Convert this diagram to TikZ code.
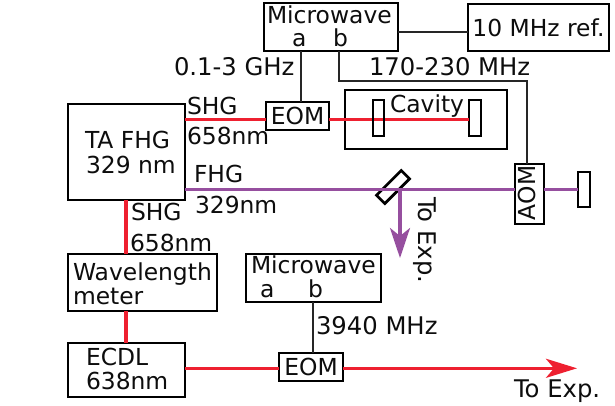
\documentclass[tikz,border=0pt]{standalone}
\usepackage{fontspec}
\setmainfont{DejaVu Sans}
\usetikzlibrary{arrows.meta}
\definecolor{beamred}{HTML}{EE2030}
\definecolor{beampurple}{HTML}{964F9F}
\tikzset{
  x=1pt,y=-1pt,
  boxs/.style={draw=black,line width=2.8pt,inner sep=0pt,outer sep=0pt,fill=white},
  hollow/.style={draw=black,line width=2.8pt,inner sep=0pt,outer sep=0pt},
  txt/.style={inner sep=0pt,outer sep=0pt,anchor=base west,text=black!95,font=\fontsize{23.4}{25}\selectfont},
  txtw/.style={txt,font=\fontsize{24.3}{25}\selectfont},
  ctr/.style={text=black!95,font=\fontsize{23.4}{25}\selectfont},
  wire/.style={draw=black!85,line width=1.5pt},
  redbeam/.style={draw=beamred,line width=3.4pt},
  purplebeam/.style={draw=beampurple,line width=3.2pt}
}
\begin{document}
\begin{tikzpicture}
\useasboundingbox (0,0) rectangle (615,405);
% boxes
\node[boxs,minimum width=134,minimum height=48] (mw) at (331,27) {};
\node[boxs,ctr,minimum width=141,minimum height=47] (ref) at (538.5,27.5) {10 MHz ref.};
\node[boxs,ctr,minimum width=63,minimum height=28] (eoma) at (297.5,116) {EOM};
\node[hollow,minimum width=162,minimum height=59] (cav) at (426,119.5) {};
\node[hollow,minimum width=12,minimum height=36] (mb) at (475,118) {};
\node[boxs,minimum width=29,minimum height=60] (aom) at (529.5,194) {};
\node[boxs,minimum width=12,minimum height=35] (endm) at (584,189.5) {};
\node[hollow,minimum width=35,minimum height=11.7,rotate=45] (split) at (393,187) {};
\node[boxs,minimum width=117,minimum height=96] (ta) at (126.5,152) {};
\node[boxs,minimum width=149,minimum height=57] (wl) at (142.5,282.5) {};
\node[boxs,minimum width=117,minimum height=54] (ecdl) at (126.5,370) {};
\node[boxs,minimum width=135,minimum height=48] (mwb) at (313.5,278) {};
\node[boxs,ctr,minimum width=64,minimum height=28] (eomb) at (311,367) {EOM};
% helper coordinates
\coordinate (porta) at (301,40);
\coordinate (portb) at (339,81);
\coordinate (aomx) at (527,81);
\coordinate (redy) at (0,119.3);
\coordinate (redv) at (126,0);
\coordinate (lowy) at (0,368.3);
\coordinate (tipa) at (577,368.3);
\coordinate (splitout) at (400,189.5);
\coordinate (tipb) at (400,258);
\coordinate (portc) at (313,0);
\coordinate (refy) at (0,32);
% beams
\draw[redbeam] (ta.east |- redy) -- (eoma.west |- redy);
\draw[redbeam] (eoma.east |- redy) -- (mb.west |- redy);
\draw[purplebeam] (ta.east |- endm.west) -- (aom.west |- endm.west);
\draw[purplebeam] (aom.east |- endm.west) -- (endm.west);
\draw[purplebeam,-{Stealth[length=30pt,width=20pt,inset=8pt]}] (splitout) -- (tipb);
\draw[redbeam] (ta.south -| redv) -- (wl.north -| redv);
\draw[redbeam] (wl.south -| redv) -- (ecdl.north -| redv);
\draw[redbeam] (ecdl.east |- lowy) -- (eomb.west |- lowy);
\draw[redbeam,-{Stealth[length=31pt,width=19pt,inset=8pt]}] (eomb.east |- lowy) -- (tipa);
% wires
\draw[wire] (mw.east |- refy) -- (ref.west |- refy);
\draw[wire] (mw.south -| porta) -- (eoma.north -| porta);
\draw[wire] (mw.south -| portb) -- (portb) -- (aomx) -- (aom.north -| aomx);
\draw[wire] (mwb.south -| portc) -- (eomb.north -| portc);
% first cavity mirror sits over the beam
\node[hollow,minimum width=11,minimum height=36] (ma) at (378.5,118) {};
% text
\node[txt] (t1) at (267,23) {Microwave};
\node[txt] (t2) at (292,46) {a};
\node[txt] (t3) at (333,46) {b};
\node[txtw] (t4) at (174,75) {0.1-3 GHz};
\node[txtw] (t5) at (369,75) {170-230 MHz};
\node[txt] (t6) at (187,114) {SHG};
\node[txt] (t7) at (187,144) {658nm};
\node[txt] (t8) at (390,112) {Cavity};
\node[txt] (t9) at (85,148) {TA FHG};
\node[txt] (t10) at (86,173) {329 nm};
\node[txt] (t11) at (194,182) {FHG};
\node[txt] (t12) at (195,213) {329nm};
\node[txt] (t13) at (131,220) {SHG};
\node[txt] (t14) at (130,251) {658nm};
\node[txt] (t15) at (73,280) {Wavelength};
\node[txt] (t16) at (73,304) {meter};
\node[txt] (t17) at (86,365) {ECDL};
\node[txt] (t18) at (86,389) {638nm};
\node[txt] (t19) at (251,273) {Microwave};
\node[txt] (t20) at (260,297) {a};
\node[txt] (t21) at (308,297) {b};
\node[txtw] (t22) at (316,334) {3940 MHz};
\node[txtw] (t23) at (514,397) {To Exp.};
\node[txtw,rotate=-90] (t24) at (418,197) {To Exp.};
\node[txt,rotate=90] (t25) at (535,220) {AOM};
\end{tikzpicture}
\end{document}
